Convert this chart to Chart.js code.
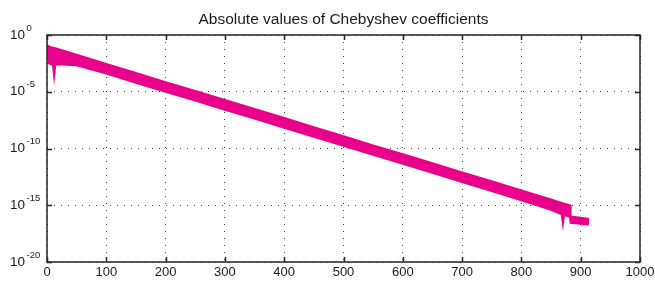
<!DOCTYPE html>
<html>
<head>
<meta charset="utf-8">
<script src="https://cdn.jsdelivr.net/npm/chart.js@4/dist/chart.umd.min.js"></script>
<style>
  html, body { margin: 0; padding: 0; background: #fff; }
  #wrap { width: 655px; height: 281px; }
</style>
</head>
<body>
<div id="wrap"><canvas id="graph"></canvas></div>
<script>
(function () {
    'use strict'

    const titleText = 'Absolute values of Chebyshev coefficients';

    // coefficient index
    const coeffIndex = [0, 3, 8, 10, 12, 14, 25, 50, 100, 150, 200, 250, 300, 350, 400, 450,
        500, 550, 600, 650, 700, 750, 800, 850, 868, 870, 872, 881, 882, 883, 900, 914];
    // top edge of the magenta band
    const upperAbs = [1.26e-1, 1e-1, 7.9e-2, 7.5e-2, 7.1e-2, 6.7e-2, 4.5e-2, 1.8e-2, 2.8e-3, 4.5e-4,
        7.1e-5, 1.2e-5, 1.9e-6, 3.0e-7, 4.8e-8, 7.6e-9, 1.2e-9, 1.9e-10, 3.1e-11, 5.0e-12,
        7.9e-13, 1.3e-13, 2.0e-14, 3.2e-15, 1.6e-15, 1.5e-15, 1.4e-15, 1.0e-15, 1.0e-15,
        1.0e-16, 7.9e-17, 6.3e-17];
    // bottom edge of the magenta band
    const lowerAbs = [4.0e-2, 3.2e-3, 2.5e-3, 2.5e-3, 2.5e-4, 2.5e-3, 2.5e-3, 2.2e-3, 4.0e-4, 6.3e-5,
        1.0e-5, 1.7e-6, 2.6e-7, 4.3e-8, 6.8e-9, 1.1e-9, 1.7e-10, 2.8e-11, 4.4e-12, 7.1e-13,
        1.1e-13, 1.8e-14, 2.8e-15, 4.0e-16, 1.6e-16, 2.5e-17, 1.4e-16, 1.0e-16, 1.0e-16,
        2.8e-17, 2.4e-17, 2.0e-17];

    const xTicks = [0, 100, 200, 300, 400, 500, 600, 700, 800, 900, 1000];
    const yTicks = [1e0, 1e-5, 1e-10, 1e-15, 1e-20];
    const yExps = ['0', '-5', '-10', '-15', '-20'];

    const magenta = '#e9008b';

    // frame, inner ticks, title and the 10^n labels
    const matlabAxes = {
        id: 'matlabAxes',
        afterDraw(chart) {
            const c = chart.ctx;
            const a = chart.chartArea;
            const xs = chart.scales.x;
            const ys = chart.scales.y;
            c.save();
            c.strokeStyle = '#262626';
            c.lineWidth = 1.5;
            c.strokeRect(a.left, a.top, a.right - a.left, a.bottom - a.top);
            c.beginPath();
            xTicks.forEach(v => {
                const px = Math.round(xs.getPixelForValue(v)) + 0.5;
                c.moveTo(px, a.bottom); c.lineTo(px, a.bottom - 5);
                c.moveTo(px, a.top); c.lineTo(px, a.top + 5);
            });
            yTicks.forEach(v => {
                const py = Math.round(ys.getPixelForValue(v)) + 0.5;
                c.moveTo(a.left, py); c.lineTo(a.left + 5, py);
                c.moveTo(a.right, py); c.lineTo(a.right - 5, py);
            });
            c.stroke();

            c.fillStyle = '#1a1a1a';
            c.font = '13px "Liberation Sans", Arial, sans-serif';
            c.textAlign = 'center';
            c.textBaseline = 'top';
            xTicks.forEach(v => c.fillText(String(v), xs.getPixelForValue(v), a.bottom + 4));

            c.textAlign = 'left';
            c.textBaseline = 'middle';
            yTicks.forEach((v, i) => {
                const py = ys.getPixelForValue(v);
                c.font = '13.5px "Liberation Sans", Arial, sans-serif';
                c.fillText('10', 10, py);
                c.font = '9.5px "Liberation Sans", Arial, sans-serif';
                c.fillText(yExps[i], 26.5, py - 7);
            });

            c.font = '15.5px "Liberation Sans", Arial, sans-serif';
            c.textAlign = 'center';
            c.textBaseline = 'alphabetic';
            c.fillText(titleText, (a.left + a.right) / 2, 24);
            c.restore();
        }
    };

    let ctx = document.getElementById('graph');
    new Chart(ctx, {
        type: 'line',
        data: {
            datasets: [{
                label: 'upper',
                data: coeffIndex.map((x, i) => ({ x: x, y: upperAbs[i] })),
                borderColor: magenta,
                backgroundColor: magenta,
                borderWidth: 2,
                pointRadius: 0,
                tension: 0,
                fill: false
            }, {
                label: 'lower',
                data: coeffIndex.map((x, i) => ({ x: x, y: lowerAbs[i] })),
                borderColor: magenta,
                backgroundColor: magenta,
                borderWidth: 2,
                pointRadius: 0,
                tension: 0,
                fill: '-1'
            }]
        },
        options: {
            responsive: true,
            maintainAspectRatio: false,
            animation: false,
            layout: {
                padding: { left: 47, right: 15, top: 35, bottom: 19 }
            },
            scales: {
                x: {
                    type: 'linear',
                    min: 0,
                    max: 1000,
                    afterBuildTicks: s => { s.ticks = xTicks.map(v => ({ value: v })); },
                    afterFit: s => { s.height = 0; },
                    ticks: { display: false },
                    grid: { color: '#444', lineWidth: 1, drawTicks: false },
                    border: { display: false, dash: [1, 6] }
                },
                y: {
                    type: 'logarithmic',
                    min: 1e-20,
                    max: 1,
                    afterBuildTicks: s => { s.ticks = yTicks.map(v => ({ value: v })); },
                    afterFit: s => { s.width = 0; },
                    ticks: { display: false },
                    grid: { color: '#444', lineWidth: 1, drawTicks: false },
                    border: { display: false, dash: [1, 6] }
                }
            },
            plugins: {
                legend: { display: false },
                tooltip: { enabled: false },
                title: { display: false }
            }
        },
        plugins: [matlabAxes]
    });
})()
</script>
</body>
</html>
